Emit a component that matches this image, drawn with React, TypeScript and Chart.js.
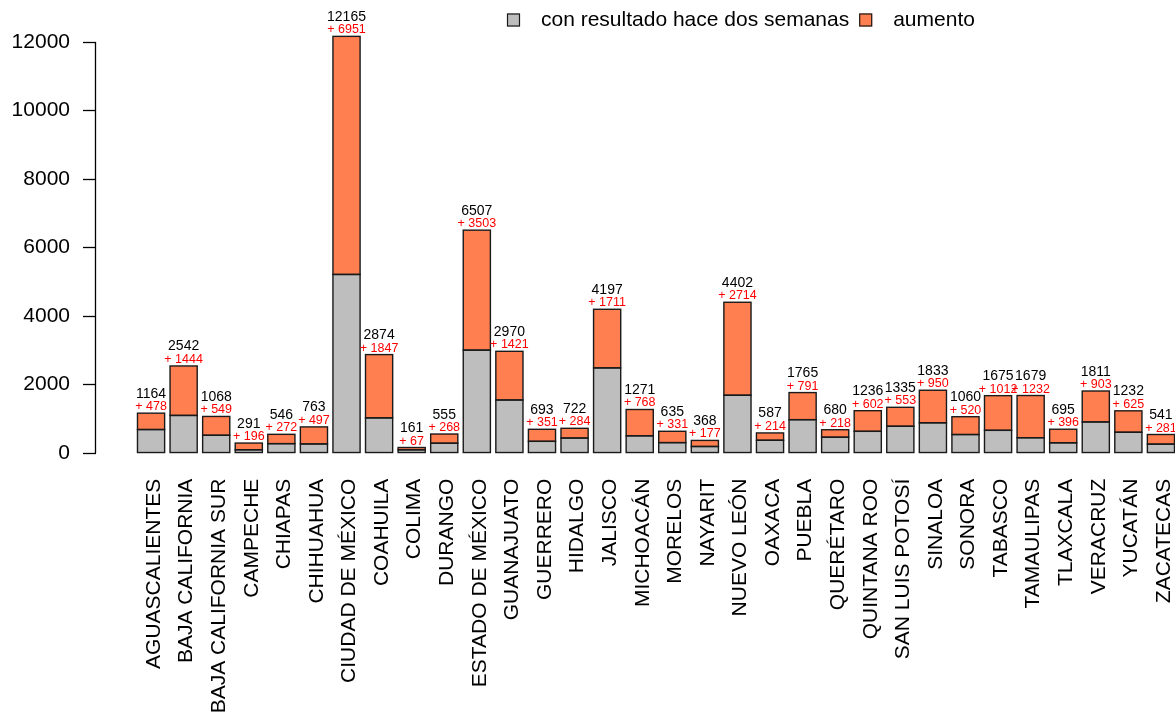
import { useEffect, useRef } from 'react';
import { Chart, registerables } from 'chart.js';

Chart.register(...registerables);

const categories = [
  'AGUASCALIENTES', 'BAJA CALIFORNIA', 'BAJA CALIFORNIA SUR', 'CAMPECHE', 'CHIAPAS', 'CHIHUAHUA',
  'CIUDAD DE MÉXICO', 'COAHUILA', 'COLIMA', 'DURANGO', 'ESTADO DE MÉXICO', 'GUANAJUATO',
  'GUERRERO', 'HIDALGO', 'JALISCO', 'MICHOACÁN', 'MORELOS', 'NAYARIT', 'NUEVO LEÓN', 'OAXACA',
  'PUEBLA', 'QUERÉTARO', 'QUINTANA ROO', 'SAN LUIS POTOSÍ', 'SINALOA', 'SONORA', 'TABASCO',
  'TAMAULIPAS', 'TLAXCALA', 'VERACRUZ', 'YUCATÁN', 'ZACATECAS',
];

const previous = [
  686, 1098, 519, 95, 274, 266, 5214, 1027, 94, 287, 3004, 1549, 342, 438, 2486, 503, 304, 191,
  1688, 373, 974, 462, 634, 782, 883, 540, 663, 447, 299, 908, 607, 260,
];

const increase = [
  478, 1444, 549, 196, 272, 497, 6951, 1847, 67, 268, 3503, 1421, 351, 284, 1711, 768, 331, 177,
  2714, 214, 791, 218, 602, 553, 950, 520, 1012, 1232, 396, 903, 625, 281,
];

const yTicks = [0, 2000, 4000, 6000, 8000, 10000, 12000];

const seriesLabels = ['con resultado hace dos semanas', 'aumento'];
const seriesColors = ['#BEBEBE', '#FF7F50'];

const FONT = '"Liberation Sans", Arial, sans-serif';

export default function App() {
  const ref = useRef<HTMLCanvasElement>(null);

  useEffect(() => {
    if (!ref.current) return;
    const totals = previous.map((v, i) => v + increase[i]);
    // R barplot layout: width 1, space 0.2
    const xPos = categories.map((_, i) => 0.7 + 1.2 * i);
    const xLo = 0.2;
    const xHi = 1.2 * categories.length;
    const xPad = 0.04 * (xHi - xLo);
    const yMaxData = Math.max(...totals);
    const yPad = 0.04 * yMaxData;

    const barOutlines = {
      id: 'barOutlines',
      afterDatasetsDraw(chart: any) {
        const ctx = chart.ctx;
        ctx.save();
        ctx.strokeStyle = '#1a1a1a';
        ctx.lineWidth = 1.4;
        chart.data.datasets.forEach((_ds: any, di: number) => {
          const meta = chart.getDatasetMeta(di);
          meta.data.forEach((el: any) => {
            const p = el.getProps(['x', 'y', 'base', 'width'], true);
            const left = p.x - p.width / 2;
            const top = Math.min(p.y, p.base);
            const h = Math.abs(p.base - p.y);
            ctx.strokeRect(left, top, p.width, h);
          });
        });
        ctx.restore();
      },
    };

    const valueLabels = {
      id: 'valueLabels',
      afterDatasetsDraw(chart: any) {
        const ctx = chart.ctx;
        const meta = chart.getDatasetMeta(1);
        ctx.save();
        ctx.textAlign = 'center';
        ctx.textBaseline = 'alphabetic';
        meta.data.forEach((el: any, i: number) => {
          const top = el.y;
          ctx.fillStyle = '#000000';
          ctx.font = `14px ${FONT}`;
          ctx.fillText(String(totals[i]), el.x, top - 15.5);
          ctx.fillStyle = '#FF0000';
          ctx.font = `12.5px ${FONT}`;
          ctx.fillText(`+ ${increase[i]}`, el.x, top - 3);
        });
        ctx.restore();
      },
    };

    const yAxisLine = {
      id: 'yAxisLine',
      afterDraw(chart: any) {
        const ctx = chart.ctx;
        const ys = chart.scales.y;
        const x = Math.round(chart.chartArea.left) - 0.5;
        ctx.save();
        ctx.strokeStyle = '#000000';
        ctx.lineWidth = 1.3;
        ctx.beginPath();
        ctx.moveTo(x, ys.getPixelForValue(yTicks[0]));
        ctx.lineTo(x, ys.getPixelForValue(yTicks[yTicks.length - 1]));
        ctx.stroke();
        ctx.restore();
      },
    };

    const customLegend = {
      id: 'customLegend',
      afterDraw(chart: any) {
        const ctx = chart.ctx;
        ctx.save();
        ctx.font = `21px ${FONT}`;
        ctx.textBaseline = 'middle';
        ctx.textAlign = 'left';
        let x = 507;
        const yc = 20;
        const box = 13;
        chart.data.datasets.forEach((ds: any) => {
          ctx.fillStyle = ds.backgroundColor;
          ctx.fillRect(x, yc - box / 2, box, box);
          ctx.strokeStyle = '#1a1a1a';
          ctx.lineWidth = 1.2;
          ctx.strokeRect(x + 0.5, yc - box / 2 + 0.5, box - 1, box - 1);
          ctx.fillStyle = '#000000';
          const tx = x + box + 21;
          ctx.fillText(ds.label, tx, yc);
          x = tx + ctx.measureText(ds.label).width + 10;
        });
        ctx.restore();
      },
    };

    const chart = new Chart(ref.current, {
      type: 'bar',
      data: {
        datasets: [
          {
            label: seriesLabels[0],
            data: previous.map((v, i) => ({ x: xPos[i], y: v })),
            backgroundColor: seriesColors[0],
            borderWidth: 0,
            inflateAmount: 0,
          },
          {
            label: seriesLabels[1],
            data: increase.map((v, i) => ({ x: xPos[i], y: v })),
            backgroundColor: seriesColors[1],
            borderWidth: 0,
            inflateAmount: 0,
          },
        ],
      },
      options: {
        animation: false,
        responsive: false,
        maintainAspectRatio: false,
        layout: { padding: { top: 19.7, right: 0, left: 0, bottom: 0 } },
        datasets: { bar: { categoryPercentage: 1, barPercentage: 1 / 1.2 } },
        plugins: {
          legend: { display: false },
          tooltip: { enabled: false },
        },
        scales: {
          x: {
            type: 'linear',
            stacked: true,
            offset: false,
            min: xLo - xPad,
            max: xHi + xPad,
            grid: { display: false, drawTicks: false },
            border: { display: false },
            afterBuildTicks: (axis: any) => {
              axis.ticks = xPos.map((v) => ({ value: v }));
            },
            afterFit: (axis: any) => {
              axis.height = 250.3;
              axis.paddingLeft = 0;
              axis.paddingRight = 0;
            },
            ticks: {
              autoSkip: false,
              maxRotation: 90,
              minRotation: 90,
              padding: 9,
              labelOffset: 3,
              color: '#000000',
              font: { family: FONT, size: 21 },
              callback: (_v: any, i: number) => categories[i],
            },
          },
          y: {
            stacked: true,
            min: -yPad,
            max: yMaxData + yPad,
            afterBuildTicks: (axis: any) => {
              axis.ticks = yTicks.map((v) => ({ value: v }));
            },
            afterFit: (axis: any) => {
              axis.width = 96;
              axis.paddingTop = 0;
              axis.paddingBottom = 0;
            },
            grid: {
              display: true,
              drawOnChartArea: false,
              drawTicks: true,
              tickLength: 13,
              tickColor: '#000000',
              tickWidth: 1.3,
            },
            border: { display: false },
            ticks: {
              padding: 13,
              color: '#000000',
              font: { family: FONT, size: 21 },
              callback: (v: any) => String(v),
            },
          },
        },
      },
      plugins: [barOutlines, valueLabels, yAxisLine, customLegend],
    } as any);

    return () => chart.destroy();
  }, []);

  return (
    <div style={{ position: 'fixed', left: 0, top: 0, width: 1216, height: 720, background: '#ffffff' }}>
      <canvas ref={ref} width={1216} height={720} style={{ display: 'block' }} />
    </div>
  );
}
